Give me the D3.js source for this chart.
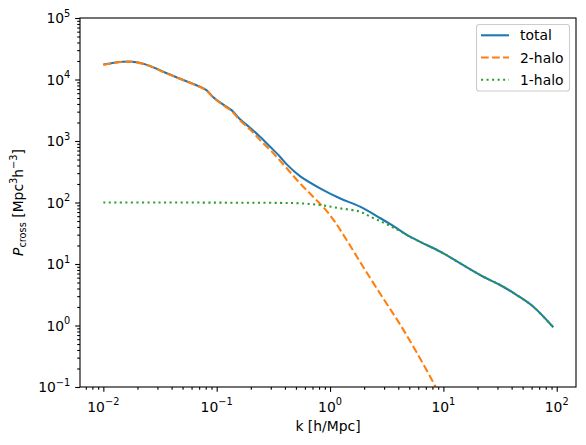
<!DOCTYPE html>
<html><head><meta charset="utf-8">
<script src="https://cdn.jsdelivr.net/npm/d3@7"></script>
<style>
html,body{margin:0;padding:0;background:#fff;}
svg{display:block;font-family:"DejaVu Sans",sans-serif;}
</style></head>
<body>
<svg id="chart" width="586" height="445"></svg>
<script>
// ---- data ----
const kTotal = [0.01, 0.015, 0.0197, 0.0258, 0.0362, 0.0508, 0.0713, 0.0817, 0.0933, 0.1146, 0.136, 0.1607, 0.197, 0.241, 0.296, 0.362, 0.415, 0.543, 0.817, 1.22, 1.84, 2.76, 3.61, 5.07, 7.13, 10, 14.0, 22.5, 31.6, 44.4, 62.2, 93.3];
const pTotal = [17500, 19450, 19100, 16600, 12600, 9820, 7640, 6650, 5150, 3900, 3150, 2250, 1640, 1175, 808, 556, 417, 269, 170, 117, 85.5, 56, 41.5, 27.8, 20.4, 14.9, 10.3, 6.21, 4.56, 3.13, 2.02, 0.935];

const kTwoHalo = [0.01, 0.015, 0.0197, 0.0258, 0.0362, 0.0508, 0.0713, 0.0817, 0.0933, 0.1146, 0.136, 0.1607, 0.197, 0.241, 0.316, 0.415, 0.543, 0.713, 0.936, 1.109, 1.445, 1.995, 2.951, 4.14, 5.82, 8.43, 10, 14.1, 20, 39.8, 100];
const pTwoHalo = [17400, 19350, 19000, 16500, 12500, 9720, 7540, 6550, 5050, 3800, 3050, 2150, 1540, 1037, 631, 360, 205, 123, 72.4, 47.9, 22.4, 8.51, 2.75, 1.047, 0.363, 0.105, 0.056, 0.0141, 0.00316, 0.0001, 0.000001];

const kOneHalo = [0.01, 0.03, 0.1, 0.2, 0.362, 0.543, 0.817, 1.22, 1.84, 2.33, 2.86, 3.50, 4.14, 5.07, 7.13, 10, 14.0, 22.5, 31.6, 44.4, 62.2, 93.3];
const pOneHalo = [100, 100, 99.5, 99, 98.5, 97, 91, 80.5, 70.8, 57.4, 48.7, 40.4, 34.5, 27.6, 20.3, 14.9, 10.3, 6.21, 4.56, 3.13, 2.02, 0.935];

const seriesNames = ["total", "2-halo", "1-halo"];
const seriesColors = ["#1f77b4", "#ff7f0e", "#2ca02c"];
const xMajorExp = [-2, -1, 0, 1, 2];
const yMajorExp = [-1, 0, 1, 2, 3, 4, 5];
const xLabel = "k [h/Mpc]";

// ---- layout ----
const L = 80, R = 576, T = 18, B = 387;
const svg = d3.select("#chart");
const x = d3.scaleLog().domain([Math.pow(10, -2.206), Math.pow(10, 2.170)]).range([L, R]);
const y = d3.scaleLog().domain([0.1, 1e5]).range([B, T]);

svg.append("defs").append("clipPath").attr("id", "clip")
  .append("rect").attr("x", L).attr("y", T).attr("width", R - L).attr("height", B - T);

function minors(lo, hi, dom) {
  const out = [];
  for (let e = lo; e <= hi; e++) for (let m = 2; m <= 9; m++) {
    const v = m * Math.pow(10, e);
    if (v >= dom[0] && v <= dom[1]) out.push(v);
  }
  return out;
}
const tickW = 1.1, majLen = 4.86, minLen = 2.78;

const gx = svg.append("g").attr("transform", `translate(0,${B})`);
gx.call(d3.axisBottom(x).tickValues(xMajorExp.map(e => Math.pow(10, e))).tickSize(majLen).tickFormat(""));
const gxm = svg.append("g").attr("transform", `translate(0,${B})`);
gxm.call(d3.axisBottom(x).tickValues(minors(-3, 2, x.domain())).tickSize(minLen).tickFormat(""));
const gy = svg.append("g").attr("transform", `translate(${L},0)`);
gy.call(d3.axisLeft(y).tickValues(yMajorExp.map(e => Math.pow(10, e))).tickSize(majLen).tickFormat(""));
const gym = svg.append("g").attr("transform", `translate(${L},0)`);
gym.call(d3.axisLeft(y).tickValues(minors(-1, 4, y.domain())).tickSize(minLen).tickFormat(""));
[gx, gxm, gy, gym].forEach(g => {
  g.select(".domain").remove();
  g.selectAll("line").attr("stroke", "#000").attr("stroke-width", tickW);
});

function powLabel(sel, e) {
  sel.append("tspan").text("10");
  sel.append("tspan").attr("font-size", "9.8px").attr("dy", -6.5)
    .text(e < 0 ? "\u2212" + (-e) : String(e));
}
xMajorExp.forEach(e => {
  const t = svg.append("text").attr("x", x(Math.pow(10, e))).attr("y", 411.5)
    .attr("text-anchor", "middle").attr("font-size", "13.9px").attr("fill", "#000");
  powLabel(t, e);
});
yMajorExp.forEach(e => {
  const t = svg.append("text").attr("x", 70.3).attr("y", y(Math.pow(10, e)) + 5)
    .attr("text-anchor", "end").attr("font-size", "13.9px").attr("fill", "#000");
  powLabel(t, e);
});

svg.append("text").attr("x", (L + R) / 2).attr("y", 431).attr("text-anchor", "middle")
  .attr("font-size", "13.9px").text(xLabel);
const yl = svg.append("text").attr("transform", `translate(23,${(T + B) / 2}) rotate(-90)`)
  .attr("text-anchor", "middle").attr("font-size", "13.9px");
yl.append("tspan").attr("font-style", "italic").text("P");
yl.append("tspan").attr("font-size", "9.8px").attr("dy", 3).text("cross");
yl.append("tspan").attr("dy", -3).text(" [Mpc");
yl.append("tspan").attr("font-size", "9.8px").attr("dy", -6).text("3");
yl.append("tspan").attr("dy", 6).text("h");
yl.append("tspan").attr("font-size", "9.8px").attr("dy", -6).text("\u22123");
yl.append("tspan").attr("dy", 6).text("]");

const line = d3.line().x(d => x(d[0])).y(d => y(d[1])).curve(d3.curveCatmullRom.alpha(0.5));
const zip = (a, b) => a.map((v, i) => [v, b[i]]);
const plot = svg.append("g").attr("clip-path", "url(#clip)");
const dashes = [null, "7.7,3.3", "2.08,3.44"];
const dataSets = [zip(kTotal, pTotal), zip(kTwoHalo, pTwoHalo), zip(kOneHalo, pOneHalo)];
dataSets.forEach((ds, i) => {
  plot.append("path").attr("d", line(ds)).attr("fill", "none")
    .attr("stroke", seriesColors[i]).attr("stroke-width", 2.08)
    .attr("stroke-dasharray", dashes[i]);
});

svg.append("rect").attr("x", L).attr("y", T).attr("width", R - L).attr("height", B - T)
  .attr("fill", "none").attr("stroke", "#000").attr("stroke-width", 1.1);

const lg = svg.append("g");
lg.append("rect").attr("x", 476.5).attr("y", 24.5).attr("width", 93).attr("height", 66.5)
  .attr("rx", 2.8).attr("fill", "#fff").attr("fill-opacity", 0.8)
  .attr("stroke", "#cccccc").attr("stroke-width", 1.1);
seriesNames.forEach((n, i) => {
  const yy = 35.3 + i * 22.2;
  lg.append("line").attr("x1", 481).attr("x2", 509).attr("y1", yy).attr("y2", yy)
    .attr("stroke", seriesColors[i]).attr("stroke-width", 2.08).attr("stroke-dasharray", dashes[i]);
  lg.append("text").attr("x", 520).attr("y", yy + 5).attr("font-size", "13.9px").text(n);
});
</script>
</body></html>
